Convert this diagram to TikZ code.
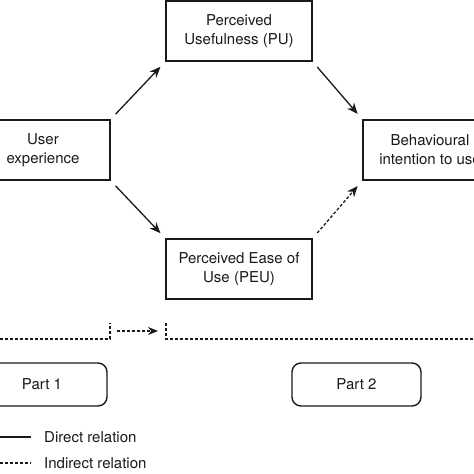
\documentclass[tikz,border=0pt]{standalone}
\usepackage{fontspec}
\setmainfont{TeX Gyre Heros}
\usetikzlibrary{arrows.meta}
\definecolor{ink}{HTML}{1A1A1A}
\begin{document}
\begin{tikzpicture}[x=1pt,y=-1pt,
  box/.style={draw=ink,line width=1.4pt,rectangle,align=center,inner sep=0pt,
    font=\fontsize{15}{19}\selectfont,text=ink},
  partbox/.style={box,rounded corners=9pt},
  rel/.style={draw=ink,line width=1.3pt,-{Stealth[length=11pt,width=9pt]},shorten <=7pt,shorten >=7pt},
  ind/.style={dash pattern=on 3pt off 2pt},
  lbl/.style={anchor=west,font=\fontsize{15}{19}\selectfont,text=ink,inner sep=0pt}]
\useasboundingbox (0,0) rectangle (474,474);
\clip (0,0) rectangle (474,474);
\fill[white] (0,0) rectangle (474,474);
% main nodes
\node[box,minimum width=146pt,minimum height=60pt] (pu) at (239,31) {Perceived\\Usefulness (PU)};
\node[box,minimum width=146pt,minimum height=60pt] (peu) at (239,269) {Perceived Ease of\\Use (PEU)};
\node[box,minimum width=134pt,minimum height=60pt] (ue) at (43,150) {User\\experience};
\node[box,minimum width=134pt,minimum height=60pt] (bi) at (430,150) {Behavioural\\intention to use};
% arrows
\draw[rel] (ue.north east) -- (pu.south west);
\draw[rel] (ue.south east) -- (peu.north west);
\draw[rel] (pu.south east) -- (bi.north west);
\draw[rel,ind] (peu.north east) -- (bi.south west);
% separator
\coordinate (l0) at (-5,339);
\coordinate (l1) at (110,339);
\coordinate (l2) at (110,323);
\coordinate (a1) at (117,331);
\coordinate (a2) at (158,331);
\coordinate (r2) at (166,323);
\coordinate (r1) at (166,339);
\coordinate (r0) at (480,339);
\draw[draw=ink,line width=1.2pt,ind] (l0) -- (l1) -- (l2);
\draw[draw=ink,line width=1.2pt,ind,-{Stealth[length=10pt,width=8pt]}] (a1) -- (a2);
\draw[draw=ink,line width=1.2pt,ind] (r2) -- (r1) -- (r0);
% parts
\node[partbox,minimum width=130pt,minimum height=43pt] (p1) at (42,384.5) {Part 1};
\node[partbox,minimum width=129pt,minimum height=43pt] (p2) at (356.5,384.5) {Part 2};
% legend
\coordinate (d0) at (-5,437);
\coordinate (d1) at (31,437);
\coordinate (i0) at (-5,463);
\coordinate (i1) at (31,463);
\draw[draw=ink,line width=1.2pt] (d0) -- (d1);
\draw[draw=ink,line width=1.2pt,ind] (i0) -- (i1);
\node[lbl] (dl) at (44,437) {Direct relation};
\node[lbl] (il) at (44,463) {Indirect relation};
\end{tikzpicture}
\end{document}
